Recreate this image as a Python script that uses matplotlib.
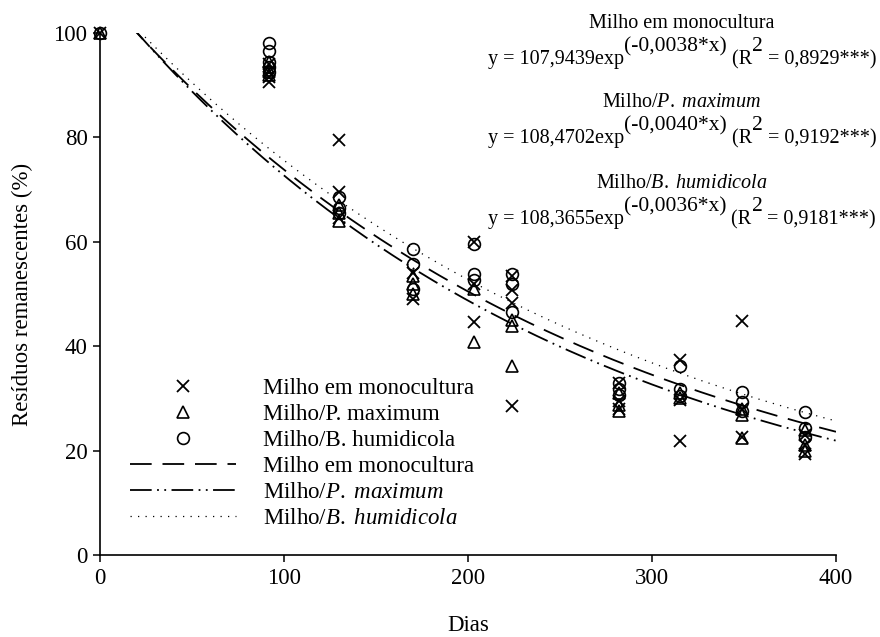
import numpy as np
import matplotlib.pyplot as plt

plt.rcParams['font.family'] = ['Liberation Serif', 'DejaVu Serif']
plt.rcParams['mathtext.fontset'] = 'custom'
plt.rcParams['mathtext.rm'] = 'Liberation Serif'
plt.rcParams['mathtext.it'] = 'Liberation Serif:italic'

FS = 16.5
FS_EQ = 14.5
FS_SUP = 15.5

# coleta (dias) e resíduos remanescentes (%) por repetição
dias = [0, 92, 130, 170, 203, 224, 282, 315, 349, 383]

mono = [[100], [90.6, 91.5, 92.5, 94.0], [79.5, 69.5, 64.5], [54.0, 49.0],
        [60.0, 52.0, 44.6], [50.8, 48.3, 28.5, 53.5], [33.0, 29.5, 28.0],
        [37.4, 29.7, 21.9], [44.8, 28.0, 22.6], [23.0, 21.0, 19.3]]
pmax = [[100], [92.0, 93.0, 94.5], [67.0, 65.5, 64.0], [53.5, 50.0, 52.0],
        [51.0, 40.8], [43.9, 36.2, 45.0], [31.0, 28.7, 27.6],
        [31.0, 30.0], [26.8, 22.4, 28.0], [24.0, 21.0, 20.0]]
bhum = [[100], [98.0, 96.5, 94.5, 93.5, 92.5], [68.5, 66.5, 65.5],
        [58.6, 55.7, 51.0], [59.6, 53.8, 52.7], [53.8, 52.0, 46.5],
        [33.0, 31.8, 30.6], [36.2, 31.8, 30.5], [31.2, 29.3, 27.6],
        [27.4, 24.3, 22.6]]

# ajustes y = a*exp(b*x)
coef_a = [107.9439, 108.4702, 108.3655]
coef_b = [-0.0038, -0.0040, -0.0036]
r2 = ['0,8929', '0,9192', '0,9181']
a_txt = ['107,9439', '108,4702', '108,3655']
b_txt = ['-0,0038', '-0,0040', '-0,0036']
titulos = ['Milho em monocultura', r'Milho/$\it{P.\ maximum}$',
           r'Milho/$\it{B.\ humidicola}$']


def expand(reps):
    xs, ys = [], []
    for d, vals in zip(dias, reps):
        xs += [d] * len(vals)
        ys += vals
    return xs, ys


fig = plt.figure(figsize=(8.8, 6.37), dpi=100)
ax = fig.add_axes([100 / 880, 82 / 637, 736 / 880, 522 / 637])

x, y = expand(mono)
ax.plot(x, y, 'x', color='black', ms=8.5, mew=1.3, ls='none', clip_on=False,
        label='Milho em monocultura')
x, y = expand(pmax)
ax.plot(x, y, '^', mfc='none', mec='black', ms=8, mew=1.2, ls='none',
        clip_on=False, label='Milho/P. maximum')
x, y = expand(bhum)
ax.plot(x, y, 'o', mfc='none', mec='black', ms=8.5, mew=1.2, ls='none',
        clip_on=False, label='Milho/B. humidicola')

xx = np.linspace(0, 400, 400)
estilos = [dict(dashes=(12, 6), lw=1.3),
           dict(dashes=(12, 3, 1, 3, 1, 3), lw=1.3),
           dict(dashes=(1, 5), lw=0.9)]
for a, b, t, st in zip(coef_a, coef_b, titulos, estilos):
    ax.plot(xx, a * np.exp(b * xx), color='black', label=t, **st)

ax.set_xlim(0, 400)
ax.set_ylim(0, 100)
ax.set_xticks([0, 100, 200, 300, 400])
ax.set_yticks([0, 20, 40, 60, 80, 100])
ax.spines['top'].set_visible(False)
ax.spines['right'].set_visible(False)
ax.tick_params(labelsize=FS, length=5, width=1.1, direction='out', pad=4)
for s in ['left', 'bottom']:
    ax.spines[s].set_linewidth(1.2)
ax.set_xlabel('Dias', fontsize=FS, labelpad=19)
ax.set_ylabel('Resíduos remanescentes (%)', fontsize=FS, labelpad=15)

ax.legend(loc='upper left', bbox_to_anchor=(0.041, 0.34), frameon=False,
          fontsize=FS, handlelength=4.6, handletextpad=1.2,
          labelspacing=0.22, borderpad=0, borderaxespad=0)

# equações dos ajustes no canto superior direito
W, H = 880, 637
renderer = fig.canvas.get_renderer()


def linha_eq(xc, yb, partes):
    objs = []
    for s, fs, sobe in partes:
        t = fig.text(0, 1 - (yb - sobe) / H, s, fontsize=fs, va='baseline')
        objs.append(t)
    larg = [t.get_window_extent(renderer=renderer).width for t in objs]
    x0 = xc - sum(larg) / 2
    for t, w in zip(objs, larg):
        t.set_x(x0 / W)
        x0 += w


ytit = [28, 107, 188]
for t, a, b, r, yp in zip(titulos, a_txt, b_txt, r2, ytit):
    fig.text(682 / W, 1 - yp / H, t, ha='center', va='baseline', fontsize=FS_EQ)
    partes = [('y = ' + a + 'exp', FS_EQ, 0), ('(' + b + '*x)', FS_SUP, 13),
              (' (R', FS_EQ, 0), ('2', FS_SUP, 13), (' = ' + r + '***)', FS_EQ, 0)]
    linha_eq(682, yp + 36, partes)

fig.savefig('out.png', dpi=100)
